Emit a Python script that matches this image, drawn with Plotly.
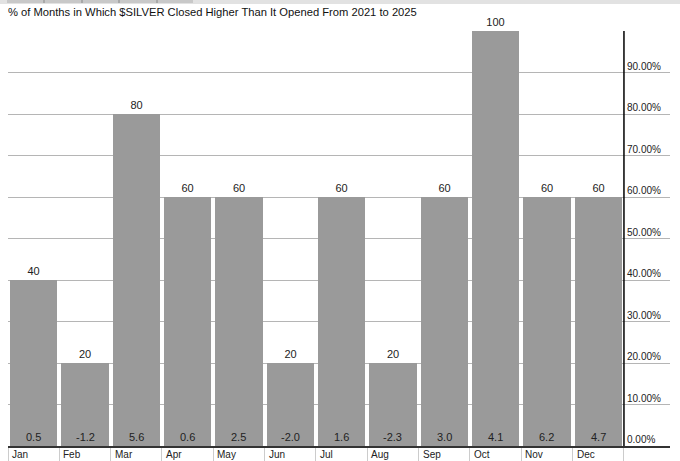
import plotly.graph_objects as go

months = ["Jan", "Feb", "Mar", "Apr", "May", "Jun", "Jul", "Aug", "Sep", "Oct", "Nov", "Dec"]
pct_up = [40, 20, 80, 60, 60, 20, 60, 20, 60, 100, 60, 60]
avg_ret = ["0.5", "-1.2", "5.6", "0.6", "2.5", "-2.0", "1.6", "-2.3", "3.0", "4.1", "6.2", "4.7"]
y_ticks = [0, 10, 20, 30, 40, 50, 60, 70, 80, 90]
y_tick_labels = ["0.00%", "10.00%", "20.00%", "30.00%", "40.00%", "50.00%", "60.00%", "70.00%", "80.00%", "90.00%"]
title = "% of Months in Which $SILVER Closed Higher Than It Opened From 2021 to 2025"

W, H = 680, 461
ML, MR, MT, MB = 8, 10, 31, 15
PW, PH = W - ML - MR, H - MT - MB
cat_px = 51.33
x_max = -0.5 + PW / cat_px

def px_x(p):
    return (p - ML) / PW

def px_y(p):
    return (H - MB - p) / PH

FONT = "Liberation Sans, Arial, sans-serif"
xs = list(range(len(months)))

fig = go.Figure()
fig.add_trace(go.Bar(
    x=xs, y=pct_up, width=0.92,
    marker=dict(color="#9a9a9a", line=dict(width=0)),
    text=[str(v) for v in pct_up], textposition="outside",
    textfont=dict(size=11, color="#222", family=FONT),
    cliponaxis=False, hoverinfo="skip",
))

ann = []
for i, r in enumerate(avg_ret):
    ann.append(dict(x=i, y=0, text=r, showarrow=False, xref="x", yref="y",
                    yanchor="bottom", yshift=1, font=dict(size=11, color="#222", family=FONT)))
for i, m in enumerate(months):
    ann.append(dict(x=i - 0.5, y=0, text=m, showarrow=False, xref="x", yref="y",
                    xanchor="left", yanchor="top", xshift=2, yshift=-1,
                    font=dict(size=10, color="#222", family=FONT)))
for v, t in zip(y_ticks, y_tick_labels):
    ann.append(dict(x=11.5, y=v, text=t, showarrow=False, xref="x", yref="y",
                    xanchor="left", yanchor="bottom", xshift=1, yshift=-1,
                    font=dict(size=10, color="#222", family=FONT)))
ann.append(dict(x=px_x(6), y=px_y(4), text=title, showarrow=False, xref="paper", yref="paper",
                xanchor="left", yanchor="top", font=dict(size=11.2, color="#111", family=FONT)))

shapes = [
    dict(type="line", xref="x", yref="y", x0=11.5, x1=11.5, y0=0, y1=100,
         line=dict(color="#000", width=1.5), layer="above"),
    dict(type="rect", xref="paper", yref="paper", x0=px_x(0), x1=px_x(680), y0=px_y(4), y1=px_y(0),
         fillcolor="#e2e2e2", line=dict(width=0), layer="below"),
    dict(type="rect", xref="paper", yref="paper", x0=px_x(7), x1=px_x(193), y0=px_y(3), y1=px_y(0),
         fillcolor="#c8c8c8", line=dict(width=0), layer="below"),
]
for sx in [44, 82, 119, 157]:
    shapes.append(dict(type="line", xref="paper", yref="paper", x0=px_x(sx), x1=px_x(sx),
                       y0=px_y(3), y1=px_y(0), line=dict(color="#888", width=1)))

fig.update_layout(
    width=W, height=H,
    margin=dict(l=ML, r=MR, t=MT, b=MB, autoexpand=False),
    paper_bgcolor="white", plot_bgcolor="white",
    showlegend=False, bargap=0,
    font=dict(family=FONT, size=11, color="#222"),
    xaxis=dict(range=[-0.5, x_max], tickmode="array",
               tickvals=[i - 0.5 for i in range(len(months) + 1)],
               showticklabels=False, ticks="outside", ticklen=14, tickcolor="#cccccc",
               showgrid=False, zeroline=False, showline=True, linecolor="#333", linewidth=2,
               fixedrange=True, automargin=False),
    yaxis=dict(range=[0, 100], tickmode="array", tickvals=y_ticks[1:], showticklabels=False,
               showgrid=True, gridcolor="#b5b5b5", gridwidth=1, zeroline=False,
               showline=False, fixedrange=True, automargin=False),
    annotations=ann, shapes=shapes,
)

fig.write_html("out.html", config={"displayModeBar": False},
               post_script="document.body.style.margin='0';document.body.style.overflow='hidden';")
